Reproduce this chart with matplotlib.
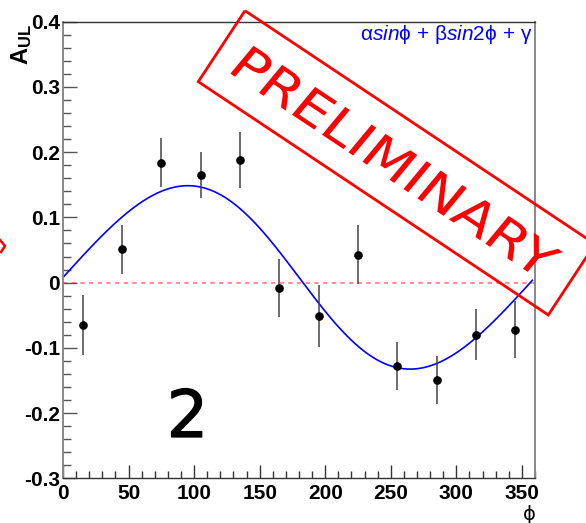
import numpy as np
import matplotlib
matplotlib.use("Agg")
import matplotlib.pyplot as plt
import matplotlib.transforms as mtransforms
import matplotlib.patheffects as pe
from matplotlib.ticker import MultipleLocator, FixedLocator, FixedFormatter
from matplotlib.patches import Polygon, PathPatch
from matplotlib.lines import Line2D
from matplotlib.textpath import TextPath
from matplotlib.font_manager import FontProperties

# Azimuthal bins (deg) and measured asymmetry
phi_bins = [15, 45, 75, 105, 135, 165, 195, 225, 255, 285, 315, 345]
asym = [-0.065, 0.051, 0.184, 0.165, 0.188, -0.008, -0.051, 0.043,
        -0.128, -0.149, -0.080, -0.072]
asym_err = [0.046, 0.038, 0.038, 0.036, 0.043, 0.044, 0.047, 0.045,
            0.037, 0.037, 0.039, 0.044]

# Fit parameters for  alpha*sin(phi) + beta*sin(2 phi) + gamma
fit_alpha = 0.140
fit_beta = -0.0065
fit_gamma = 0.008
fit_range = (0.0, 358.0)

x_ticks = [0, 50, 100, 150, 200, 250, 300, 350]
x_tick_labels = ["0", "50", "100", "150", "200", "250", "300", "350"]
y_ticks = [-0.3, -0.2, -0.1, 0.0, 0.1, 0.2, 0.3, 0.4]
y_tick_labels = ["-0.3", "-0.2", "-0.1", "0", "0.1", "0.2", "0.3", "0.4"]

plt.rcParams["font.family"] = ["Liberation Sans", "DejaVu Sans"]
plt.rcParams["axes.unicode_minus"] = False
plt.rcParams["mathtext.fontset"] = "custom"
plt.rcParams["mathtext.rm"] = "Liberation Sans"
plt.rcParams["mathtext.it"] = "Liberation Sans:italic"
plt.rcParams["mathtext.bf"] = "Liberation Sans:bold"

W, H = 586, 523
fig = plt.figure(figsize=(W / 100, H / 100), dpi=100)
x0, x1, yt, yb = 63, 535, 21.7, 478.3
ax = fig.add_axes([x0 / W, 1 - yb / H, (x1 - x0) / W, (yb - yt) / H])
ax.set_xlim(0, 360)
ax.set_ylim(-0.3, 0.4)

# zero line
ax.axhline(0, color="#ff7a7a", lw=1.2, ls=(0, (2.6, 2.6)), zorder=1)

# fitted curve
phi = np.linspace(fit_range[0], fit_range[1], 500)
rad = np.deg2rad(phi)
fit = fit_alpha * np.sin(rad) + fit_beta * np.sin(2 * rad) + fit_gamma
ax.plot(phi, fit, color="#0000ff", lw=1.2, zorder=2)

# data points
ax.errorbar(phi_bins, asym, yerr=asym_err, fmt="o", color="black",
            ecolor="#444444", elinewidth=1.1, ms=5.2, capsize=0, zorder=3)

# axes style
for s in ["left", "right"]:
    ax.spines[s].set_color("#888888")
    ax.spines[s].set_linewidth(1.4)
for s in ["top", "bottom"]:
    ax.spines[s].set_color("#333333")
    ax.spines[s].set_linewidth(1.0)

ax.xaxis.set_major_locator(FixedLocator(x_ticks))
ax.xaxis.set_major_formatter(FixedFormatter(x_tick_labels))
ax.xaxis.set_minor_locator(MultipleLocator(10))
ax.yaxis.set_major_locator(FixedLocator(y_ticks))
ax.yaxis.set_major_formatter(FixedFormatter(y_tick_labels))
ax.yaxis.set_minor_locator(MultipleLocator(0.02))

ax.tick_params(axis="x", which="major", direction="in", length=9.5, width=1,
               color="#333333", pad=4, labelsize=15)
ax.tick_params(axis="x", which="minor", direction="in", length=4.7, width=1,
               color="#333333")
ax.tick_params(axis="y", which="major", direction="in", length=10, width=1,
               color="#555555", pad=2, labelsize=15)
ax.tick_params(axis="y", which="minor", direction="in", length=5.7, width=1,
               color="#555555")
for lab in ax.get_xticklabels() + ax.get_yticklabels():
    lab.set_fontweight("bold")

# axis titles
fig.text(22 / W, 1 - 24 / H, r"$\mathbf{A}_{\mathbf{UL}}$", rotation=90,
         ha="center", va="top", fontsize=17, zorder=0)
fig.text(529 / W, 1 - 515 / H, "\u03d5", ha="center", va="center",
         fontsize=14, family=["DejaVu Sans"])

# fit function label
ax.text(1 - 3 / (x1 - x0), 1 - 1 / (yb - yt),
        r"$\mathrm{\alpha}\mathit{sin}\mathrm{\phi}$ + "
        r"$\mathrm{\beta}\mathit{sin2}\mathrm{\phi}$ + $\mathrm{\gamma}$",
        transform=ax.transAxes, ha="right", va="top", color="#0000ff",
        fontsize=15)

# panel number
fig.text(187.5 / W, 1 - 419 / H, "2", ha="center", va="center",
         fontsize=47, family=["DejaVu Sans"],
         path_effects=[pe.Stroke(linewidth=0.9, foreground="black"), pe.Normal()])

# PRELIMINARY stamp (in pixel coordinates)
box_px = [(245, 10.7), (198.3, 81.7), (548.3, 315), (595, 244)]
box = Polygon([(px / W, 1 - py / H) for px, py in box_px], closed=True,
              fill=False, edgecolor="#ff0000", lw=2.0,
              transform=fig.transFigure, clip_on=False)
fig.add_artist(box)

tp = TextPath((0, 0), "PRELIMINARY", size=1,
              prop=FontProperties(family="DejaVu Sans"))
ext = tp.get_extents()
cx, cy = 396.7, 162.9
tr = (mtransforms.Affine2D()
      .translate(-(ext.x0 + ext.x1) / 2, -(ext.y0 + ext.y1) / 2)
      .scale(372 / ext.width, 36 / ext.height)
      .skew_deg(6, 0)
      .rotate_deg(-33.7)
      .translate(cx, H - cy))
stamp = PathPatch(tp, transform=tr, facecolor="#ff0000", edgecolor="none",
                  lw=0)
fig.add_artist(stamp)

# corner of neighbouring stamp at left edge
fig.add_artist(Line2D([0 / W, 5 / W, 1 / W], [1 - 240 / H, 1 - 246 / H, 1 - 252 / H],
                      transform=fig.transFigure, color="#ff0000", lw=1.8))

fig.savefig("out.png", dpi=100)
